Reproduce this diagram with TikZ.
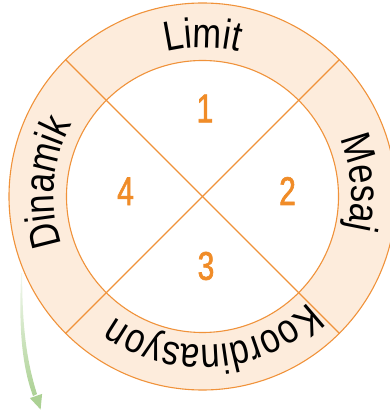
\documentclass[tikz,border=0pt]{standalone}
\usepackage{fontspec}
\usetikzlibrary{decorations.text}
\newfontfamily\ringfont[FakeStretch=0.82]{Liberation Sans}
\newfontfamily\numfont[FakeStretch=0.75,FakeBold=1.5]{Liberation Sans}
\definecolor{ringorange}{RGB}{240,146,58}
\definecolor{ringfill}{RGB}{253,236,220}
\definecolor{numorange}{RGB}{240,140,40}
\definecolor{arrowgreen}{RGB}{172,209,148}
\tikzset{
  ringline/.style={draw=ringorange, line width=1.1pt},
  numstyle/.style={inner sep=0pt, text=numorange, font=\numfont\fontsize{40}{40}\selectfont},
  ringtext/.style={decorate, decoration={text along path, text align=center,
      text={|\ringfont\fontsize{42}{44}\selectfont|#1}}}
}
\begin{document}
\begin{tikzpicture}[x=1pt,y=1pt]
\useasboundingbox (-202.5,-217.5) rectangle (186.5,196.5);
% ring
\node[circle, minimum size=387pt, inner sep=0pt, ringline, fill=ringfill] (outer) at (0,0) {};
\node[circle, minimum size=272pt, inner sep=0pt, ringline, fill=white] (inner) at (0,0) {};
\draw[ringline] (outer.45) -- (outer.225);
\draw[ringline] (outer.135) -- (outer.-45);
% ring labels (clockwise path, baseline radius 149)
\path[ringtext={Limit}] (126:149) arc[start angle=126, end angle=54, radius=149];
\path[ringtext={Mesaj}] (45:149) arc[start angle=45, end angle=-35, radius=149];
\path[ringtext={Koordinasyon}] (-15.5:149) arc[start angle=-15.5, end angle=-155.5, radius=149];
\path[ringtext={Dinamik}] (220:149) arc[start angle=220, end angle=130, radius=149];
% quadrant numbers
\node[numstyle] (q1) at (2.5,88) {1};
\node[numstyle] (q2) at (85,5.5) {2};
\node[numstyle] (q3) at (3.5,-69.5) {3};
\node[numstyle] (q4) at (-77,5.2) {4};
% green arrow
\coordinate (arrowstart) at (-180.8,-76.5);
\coordinate (arrowtip) at (-161.9,-213.0);
\path[top color=arrowgreen!15, middle color=arrowgreen, bottom color=arrowgreen, shading angle=0]
  (-181.3,-76.5) .. controls (-183.5,-123.5) and (-182,-165.5) .. (-169.5,-199.5)
  -- (-165.5,-197.5) .. controls (-177,-161.5) and (-180.5,-123.5) .. (-180.3,-76.5) -- cycle;
\fill[arrowgreen] (-172.6,-201.6) -- (arrowtip) -- (-160.4,-197.4) -- cycle;
\end{tikzpicture}
\end{document}
